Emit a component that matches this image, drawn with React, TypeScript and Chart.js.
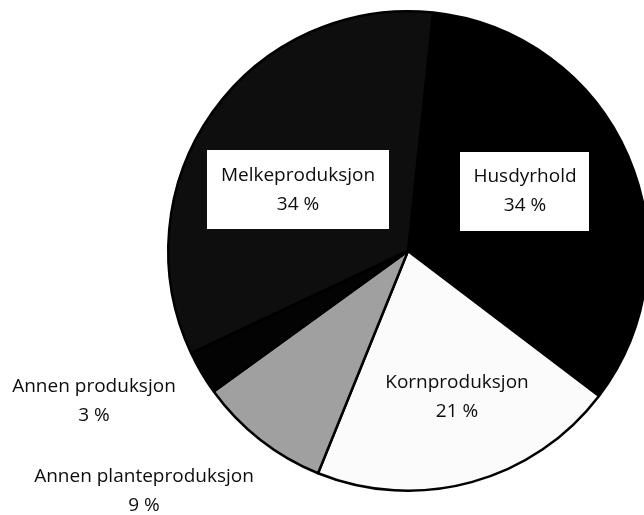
import React, { useEffect, useRef } from "react";
import { Chart, registerables } from "chart.js";

Chart.register(...registerables);

// Slice order clockwise from (just right of) the top
const categories = [
  "Husdyrhold",
  "Kornproduksjon",
  "Annen planteproduksjon",
  "Annen produksjon",
  "Melkeproduksjon",
];
const shares = [34, 21, 9, 3, 34];
const percentLabels = ["34 %", "21 %", "9 %", "3 %", "34 %"];

const sliceColors = ["#000000", "#fbfbfb", "#a0a0a0", "#030303", "#0e0e0e"];

// label layout (centre x, first-line y, boxed?)
const labelLayout = [
  { x: 525, y: 177, box: [460, 152, 129, 79] },
  { x: 457, y: 383, box: null },
  { x: 144, y: 477, box: null },
  { x: 94, y: 387, box: null },
  { x: 298, y: 176, box: [207, 150, 182, 79] },
];

const FONT = '19px "Open Sans", "Noto Sans", sans-serif';
const LINE = 29;

const labelPlugin = {
  id: "sliceLabels",
  afterDatasetsDraw(chart: any) {
    const ctx = chart.ctx as CanvasRenderingContext2D;
    ctx.save();
    categories.forEach((name, i) => {
      const l = labelLayout[i];
      if (l.box) {
        ctx.fillStyle = "#ffffff";
        ctx.fillRect(l.box[0], l.box[1], l.box[2], l.box[3]);
      }
      ctx.fillStyle = "#0d0d0d";
      ctx.font = FONT;
      ctx.textAlign = "center";
      ctx.textBaseline = "middle";
      ctx.fillText(name, l.x, l.y);
      ctx.fillText(percentLabels[i], l.x, l.y + LINE);
    });
    ctx.restore();
  },
};

export default function App() {
  const ref = useRef<HTMLCanvasElement | null>(null);
  useEffect(() => {
    if (!ref.current) return;
    const chart = new Chart(ref.current, {
      type: "pie",
      data: {
        labels: categories,
        datasets: [
          {
            data: shares,
            backgroundColor: sliceColors,
            borderColor: "#000000",
            borderWidth: 2.5,
          },
        ],
      },
      options: {
        responsive: false,
        animation: false,
        rotation: 6,
        layout: { padding: { left: 167, top: 10, right: 11, bottom: 23 } },
        plugins: {
          legend: { display: false },
          tooltip: { enabled: false },
          title: { display: false },
        },
      },
      plugins: [labelPlugin],
    });
    return () => chart.destroy();
  }, []);
  return (
    <div
      style={{
        position: "absolute",
        left: 0,
        top: 0,
        width: 644,
        height: 515,
        overflow: "hidden",
        background: "#ffffff",
      }}
    >
      <canvas ref={ref} width={660} height={515} style={{ width: 660, height: 515, display: "block" }} />
    </div>
  );
}
